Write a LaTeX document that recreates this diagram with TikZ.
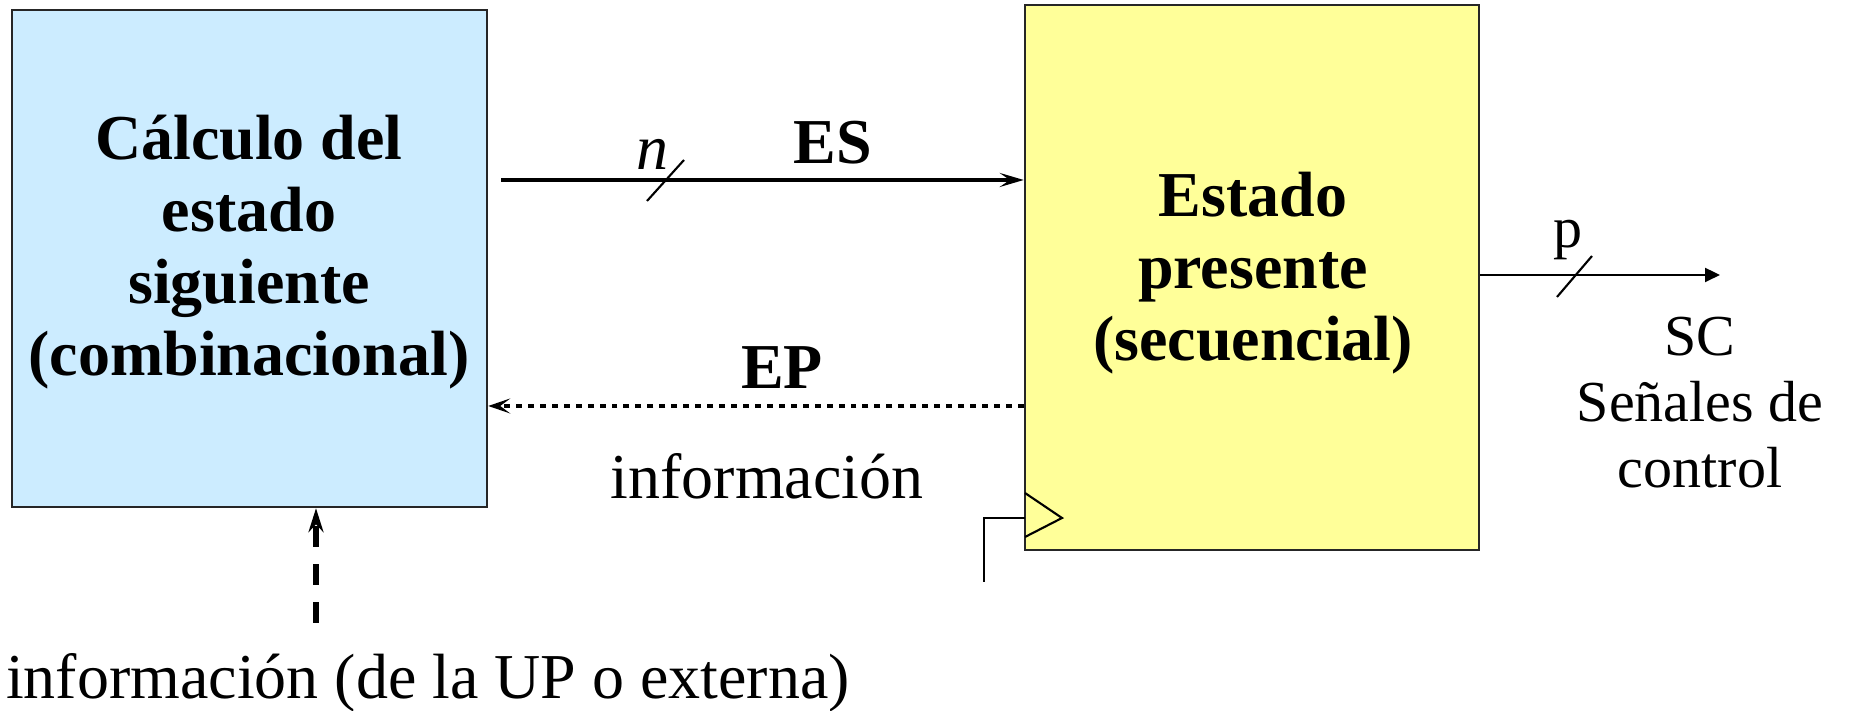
\documentclass[tikz,border=0pt]{standalone}
\usepackage{fontspec}
\setmainfont{Liberation Serif}
\usetikzlibrary{arrows.meta}

\definecolor{combfill}{HTML}{CCECFF}
\definecolor{seqfill}{HTML}{FFFF99}

\begin{document}
\begin{tikzpicture}[
  font=\fontsize{18.2pt}{20.5pt}\selectfont,
  block/.style={draw=black!85, line width=0.7pt, inner sep=0pt},
  title/.style={font=\fontsize{18.2pt}{20.5pt}\selectfont\bfseries, align=center, inner sep=0pt},
  plain/.style={inner sep=0pt},
  small/.style={font=\fontsize{16.5pt}{18.8pt}\selectfont, align=center, inner sep=0pt},
  bus/.style={line width=1.4pt, -{Stealth[length=0.24cm, width=0.14cm, inset=0.1cm]}},
  feedback/.style={line width=1.3pt, dash pattern=on 1.7pt off 1.7pt,
                   -{Stealth[length=0.22cm, width=0.15cm, inset=0.1cm]}},
  extin/.style={line width=1.5pt, dash pattern=on 0.21cm off 0.17cm,
                -{Stealth[length=0.24cm, width=0.15cm, inset=0.08cm]}},
  wire/.style={line width=0.6pt},
  outwire/.style={line width=0.6pt, -{Triangle[length=0.15cm, width=0.14cm]}},
]
\useasboundingbox (0,0) rectangle (18.5,7.11);

% the two blocks
\node[block, fill=combfill, minimum width=4.75cm, minimum height=4.97cm] (L) at (2.495,4.525) {};
\node[block, fill=seqfill, minimum width=4.54cm, minimum height=5.45cm] (R) at (12.52,4.335) {};

\node[title] (Ltext) at (2.49,4.585) {Cálculo del\\estado\\siguiente\\(combinacional)};
\node[title] (Rtext) at (12.53,4.38) {Estado\\presente\\(secuencial)};

% next-state bus ES
\coordinate (esA) at (5.01,5.31);
\draw[bus] (esA) -- (esA -| R.west);
\draw[wire] (6.47,5.10) -- (6.84,5.51);
\node[plain, anchor=base] (nlab) at (6.52,5.41) {\itshape n};
\node[title] (ES) at (8.33,5.68) {ES};

% present-state feedback EP
\coordinate (epA) at (R.west |- 0,3.05);
\draw[feedback] (epA) -- (epA -| L.east);
\node[title] (EP) at (7.82,3.435) {EP};
\node[plain, anchor=base] (info) at (7.67,2.12) {información};

% clock input
\draw[wire] (10.25,2.18) -- (10.62,1.93) -- (10.25,1.74);
\coordinate (clkA) at (9.84,1.29);
\draw[wire] (clkA) |- (10.25,1.93);

% external information input
\coordinate (extA) at (3.16,0.88);
\draw[extin] (extA) -- (extA |- L.south);
\node[plain, anchor=base] (ext) at (4.28,0.12) {información (de la UP o externa)};

% control signal output
\coordinate (scA) at (17.20,4.36);
\draw[outwire] (R.east |- scA) -- (scA);
\draw[wire] (15.57,4.14) -- (15.92,4.55);
\node[plain, anchor=base, font=\fontsize{16.5pt}{18.8pt}\selectfont] (plab) at (15.68,4.63) {p};
\node[small] (SC) at (17.0,3.08) {SC\\Señales de\\control};
\end{tikzpicture}
\end{document}
